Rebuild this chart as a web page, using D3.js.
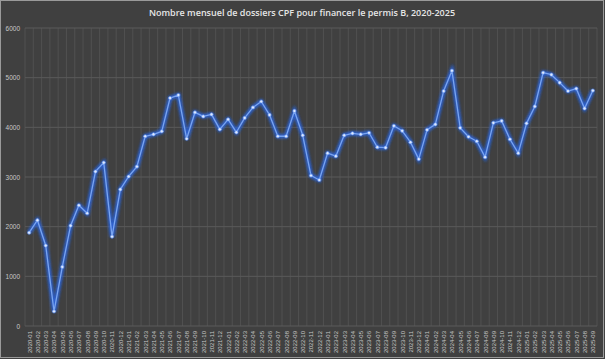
<!DOCTYPE html>
<html><head><meta charset="utf-8">
<script src="https://cdn.jsdelivr.net/npm/d3@7"></script>
<style>html,body{margin:0;padding:0;background:#404040;}svg{display:block;}</style>
</head><body>
<svg id="c" width="605" height="359"></svg>
<script>
const title = "Nombre mensuel de dossiers CPF pour financer le permis B, 2020-2025";
const months = [];
for (let y = 2020; y <= 2025; y++) for (let m = 1; m <= 12; m++) { if (y === 2025 && m > 9) break; months.push(y + "-" + String(m).padStart(2, "0")); }
const values = [
 1880,2130,1620,295,1190,2020,2430,2270,3110,3290,1800,2750,
 3010,3210,3820,3860,3920,4590,4650,3770,4300,4220,4260,3960,
 4160,3900,4190,4400,4520,4250,3820,3820,4330,3840,3030,2940,
 3480,3420,3840,3880,3860,3890,3600,3590,4030,3930,3700,3360,
 3950,4060,4730,5140,3990,3810,3720,3400,4090,4130,3760,3480,
 4080,4420,5100,5060,4900,4730,4780,4380,4740
];
const yTicks = [0,1000,2000,3000,4000,5000,6000];

const W = 605, H = 359;
const L = 25, R = 597, T = 28, B = 326;
const svg = d3.select("#c");
svg.append("rect").attr("x",0.5).attr("y",0.5).attr("width",W-2).attr("height",H-2)
  .attr("fill","#404040").attr("stroke","#9a9a9a").attr("stroke-width",1);

const x = d3.scalePoint().domain(months).range([L, R]).padding(0.5);
const y = d3.scaleLinear().domain([0, 6000]).range([B, T]);
const step = x.step();

const g = svg.append("g");
g.selectAll("line.v").data(months.concat(["__end"])).join("line")
  .attr("x1", (d,i) => L + i*step).attr("x2", (d,i) => L + i*step)
  .attr("y1", T).attr("y2", B)
  .attr("stroke", "#505050").attr("stroke-width", 1);
g.selectAll("line.h").data(yTicks).join("line")
  .attr("x1", L).attr("x2", R).attr("y1", d => y(d)).attr("y2", d => y(d))
  .attr("stroke", "#5a5a5a").attr("stroke-width", 1);

const yAxis = d3.axisLeft(y).tickValues(yTicks).tickSize(0).tickPadding(5).tickFormat(d3.format("d"));
const ya = svg.append("g").attr("transform", `translate(${L},0)`).call(yAxis);
ya.select(".domain").remove();
ya.selectAll("text").attr("fill","#c8c8c8").style("font-family","Liberation Sans, Arial, sans-serif").style("font-size","6.5px");

const xAxis = d3.axisBottom(x).tickSize(0).tickPadding(0);
const xa = svg.append("g").attr("transform", `translate(0,${B})`).call(xAxis);
xa.select(".domain").remove();
xa.selectAll("text")
  .attr("fill","#c8c8c8").style("font-family","Liberation Sans, Arial, sans-serif").style("font-size","6px")
  .attr("text-anchor","end").attr("dy","0.32em").attr("y",0)
  .attr("transform","translate(0,5) rotate(-90)").attr("x",0);

svg.append("text").attr("x", 302).attr("y", 16).attr("text-anchor","middle")
  .attr("fill","#e6e6e6").style("font-family","Open Sans, Liberation Sans, sans-serif")
  .style("font-size","9px").style("font-weight","600").text(title);

const defs = svg.append("defs");
const f = defs.append("filter").attr("id","glow").attr("x","-20%").attr("y","-20%").attr("width","140%").attr("height","140%");
f.append("feGaussianBlur").attr("stdDeviation",1.8).attr("result","b");
const fm = f.append("feMerge");
fm.append("feMergeNode").attr("in","b");
fm.append("feMergeNode").attr("in","b");

const line = d3.line().x((d,i) => x(months[i])).y(d => y(d));
svg.append("path").datum(values).attr("d", line).attr("fill","none")
  .attr("stroke","#2f63d8").attr("stroke-width",3.5).attr("stroke-opacity",0.75).attr("filter","url(#glow)");
svg.append("path").datum(values).attr("d", line).attr("fill","none")
  .attr("stroke","#79a4f0").attr("stroke-width",1.3).attr("stroke-linejoin","round");
svg.append("g").selectAll("circle").data(values).join("circle")
  .attr("cx",(d,i)=>x(months[i])).attr("cy",d=>y(d)).attr("r",1.6)
  .attr("fill","#dce8ff").attr("stroke","#5d8ff0").attr("stroke-width",0.6);
</script>
</body></html>
